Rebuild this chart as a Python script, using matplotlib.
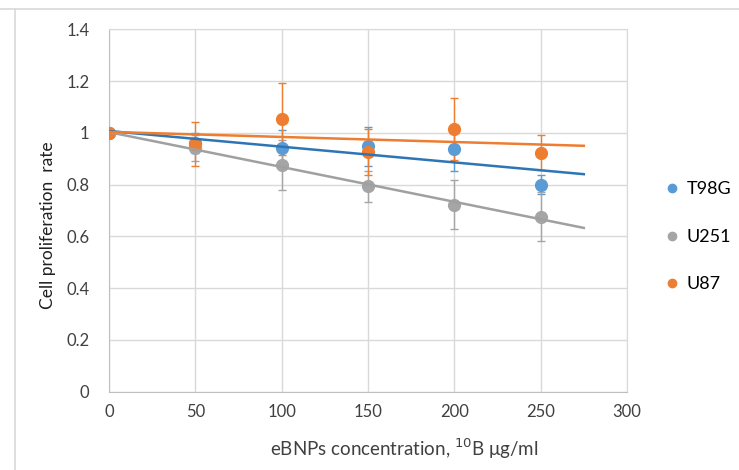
import matplotlib.pyplot as plt
import numpy as np
from matplotlib.lines import Line2D

plt.rcParams['font.family'] = ['Lato', 'DejaVu Sans']

# concentração (eBNPs, 10B ug/ml)
conc = [0, 50, 100, 150, 200, 250]

series_names = ['T98G', 'U251', 'U87']

t98g_rate = [1.0, 0.96, 0.941, 0.948, 0.937, 0.80]
t98g_err = [0.0, 0.04, 0.07, 0.075, 0.085, 0.035]

u251_rate = [1.0, 0.94, 0.874, 0.793, 0.722, 0.676]
u251_err = [0.0, 0.05, 0.097, 0.06, 0.095, 0.096]

u87_rate = [1.0, 0.958, 1.053, 0.925, 1.015, 0.923]
u87_err = [0.0, 0.085, 0.14, 0.09, 0.12, 0.067]

trend_end = 275

marker_colors = ['#5B9BD5', '#A5A5A5', '#ED7D31']
trend_colors = ['#2E75B6', '#A0A0A0', '#ED7D31']

fig = plt.figure(figsize=(7.39, 4.70), dpi=100)
ax = fig.add_axes([0.1475, 0.167, 0.7009, 0.7707])

# moldura clara da área do gráfico
fig.add_artist(Line2D([0, 1], [1 - 9 / 470, 1 - 9 / 470], transform=fig.transFigure,
                      color='#D9D9D9', lw=1.2))
fig.add_artist(Line2D([15 / 739, 15 / 739], [0, 1 - 9 / 470], transform=fig.transFigure,
                      color='#D9D9D9', lw=1.2))

data = [(t98g_rate, t98g_err), (u251_rate, u251_err), (u87_rate, u87_err)]
x = np.array(conc, dtype=float)
for (rate, err), name, mc in zip(data, series_names, marker_colors):
    ax.errorbar(conc, rate, yerr=err, fmt='o', color=mc, ecolor=mc, elinewidth=1.0,
                capsize=3, capthick=1.0, markersize=8.5, label=name, zorder=3)

# linhas de tendência lineares (como no Excel)
xt = np.array([0, trend_end], dtype=float)
for (rate, err), tc in zip(data, trend_colors):
    k, b = np.polyfit(x, rate, 1)
    ax.plot(xt, k * xt + b, color=tc, lw=1.8, zorder=4)

ax.set_xlim(0, 300)
ax.set_ylim(0, 1.4)
ax.set_xticks(np.arange(0, 301, 50))
ax.set_yticks(np.arange(0, 1.41, 0.2))
ax.set_yticklabels(['0', '0.2', '0.4', '0.6', '0.8', '1', '1.2', '1.4'])
ax.tick_params(length=0, labelsize=12, colors='#404040')
ax.tick_params(axis='x', pad=9)
ax.tick_params(axis='y', pad=14)
ax.grid(True, color='#D9D9D9', lw=1.0)
ax.set_axisbelow(True)
for side in ['top', 'right']:
    ax.spines[side].set_color('#D9D9D9')
for side in ['left', 'bottom']:
    ax.spines[side].set_color('#BFBFBF')

ax.set_xlabel('eBNPs concentration, $^{10}$B μg/ml', fontsize=13.5, color='#404040')
ax.xaxis.set_label_coords(0.57, -0.125)
ax.set_ylabel('Cell proliferation  rate', fontsize=12.5, color='#202020')
ax.yaxis.set_label_coords(-0.103, 0.46)

handles = [Line2D([], [], marker='o', ls='', color=c, markersize=6) for c in marker_colors]
fig.legend(handles, series_names, loc='center left', bbox_to_anchor=(0.875, 0.496),
           frameon=False, fontsize=13, handletextpad=0.3, labelspacing=1.75,
           handlelength=1.0)

plt.savefig('out.png', dpi=100)
